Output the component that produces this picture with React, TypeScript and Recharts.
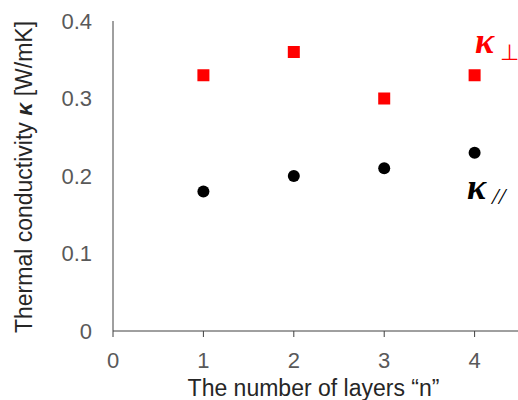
import { ScatterChart, Scatter, XAxis, YAxis, Customized } from "recharts";

const layers = [1, 2, 3, 4];
const kappaPerp = [0.33, 0.36, 0.3, 0.33];
const kappaPar = [0.18, 0.2, 0.21, 0.23];
const xTicks = [0, 1, 2, 3, 4];
const yTicks = [0, 0.1, 0.2, 0.3, 0.4];

const perpData = layers.map((n, i) => ({ n, k: kappaPerp[i] }));
const parData = layers.map((n, i) => ({ n, k: kappaPar[i] }));

const FONT = "'Liberation Sans', Arial, sans-serif";
const SERIF = "'Liberation Serif', 'Times New Roman', serif";
const AXIS = "#404040";
const TICK = "#595959";

const Square = (props: any) => (
  <rect x={props.cx - 6} y={props.cy - 6} width={12} height={12} fill="#ff0000" />
);
const Dot = (props: any) => <circle cx={props.cx} cy={props.cy} r={6} fill="#000000" />;

const XTitle = (props: any) => {
  const vb = props.viewBox;
  return (
    <text x={vb.x + vb.width / 2 - 2} y={396} textAnchor="middle" fontSize={23} fill="#262626" fontFamily={FONT}>
      The number of layers “n”
    </text>
  );
};

const Annotations = () => (
  <g>
    <text x={32} y={177} transform="rotate(-90, 32, 177)" textAnchor="middle" fontSize={23} fill="#262626" fontFamily={FONT}>
      Thermal conductivity <tspan fontWeight="bold" fontStyle="italic">κ</tspan> [W/mK]
    </text>
    <text x={475} y={53} fill="#ff0000" fontFamily={SERIF}>
      <tspan fontSize={36} fontWeight="bold" fontStyle="italic">κ</tspan>
      <tspan fontSize={22} dx={6} dy={7}>⊥</tspan>
    </text>
    <text x={467} y={199} fill="#000000" fontFamily={SERIF}>
      <tspan fontSize={36} fontWeight="bold" fontStyle="italic">κ</tspan>
      <tspan fontSize={24} dx={6} dy={5} fontStyle="italic">//</tspan>
    </text>
  </g>
);

export default function App() {
  return (
    <div style={{ position: "absolute", left: 0, top: 0, background: "#fff" }}>
      <ScatterChart width={518} height={400} margin={{ top: 21, right: 0, bottom: 0, left: 0 }}>
        <XAxis
          type="number"
          dataKey="n"
          domain={[0, 4.48]}
          ticks={xTicks}
          allowDataOverflow
          height={69}
          stroke={AXIS}
          tickSize={6}
          tickMargin={15}
          tick={{ fill: TICK, fontSize: 22, fontFamily: FONT }}
          label={<XTitle />}
        />
        <YAxis
          type="number"
          dataKey="k"
          domain={[0, 0.4]}
          ticks={yTicks}
          width={113}
          stroke={AXIS}
          tickLine={false}
          tickSize={0}
          tickMargin={21}
          tickFormatter={(v: number) => (v === 0 ? "0" : v.toFixed(1))}
          tick={{ fill: TICK, fontSize: 22, fontFamily: FONT }}
        />
        <Scatter data={perpData} shape={Square} isAnimationActive={false} />
        <Scatter data={parData} shape={Dot} isAnimationActive={false} />
        <Customized component={Annotations} />
      </ScatterChart>
    </div>
  );
}
